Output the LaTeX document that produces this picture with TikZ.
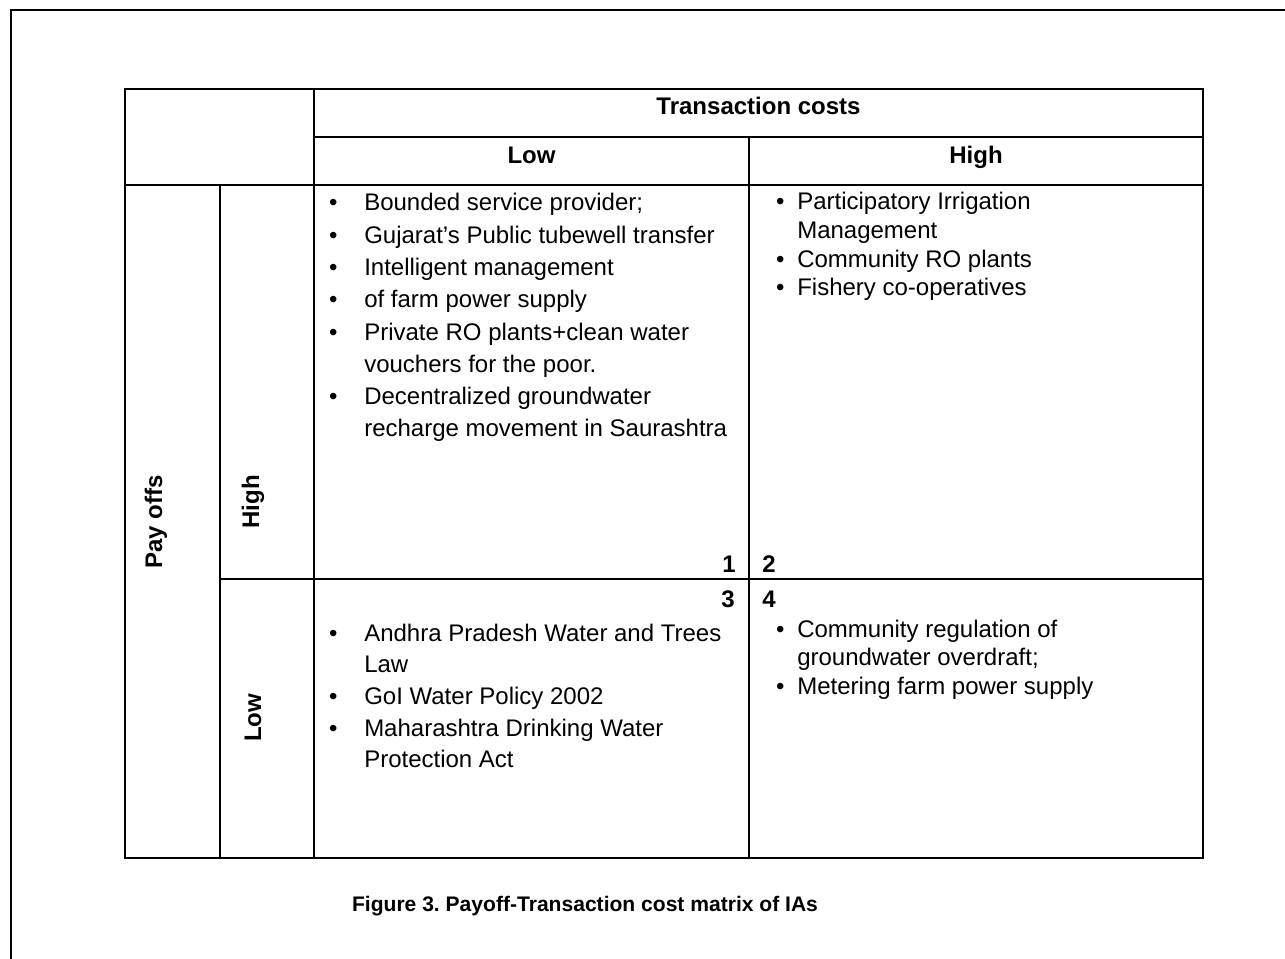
\documentclass[tikz,border=0pt]{standalone}
\usepackage{fontspec}
\setmainfont{Liberation Sans}
\frenchspacing
\newcommand\bu{\makebox[0pt]{\textbullet}}
\begin{document}
\begin{tikzpicture}[x=0.75pt,y=-0.75pt,
  frame/.style={line width=2.2pt},
  grid/.style={line width=1.8pt},
  hd/.style={inner sep=0pt,anchor=base,font=\fontsize{18}{22}\selectfont\bfseries},
  rot/.style={inner sep=0pt,rotate=90,font=\fontsize{18}{22}\selectfont\bfseries},
  num/.style={inner sep=0pt,anchor=base,font=\fontsize{18}{22}\selectfont\bfseries},
  listL/.style={inner sep=0pt,anchor=base west,font=\fontsize{18}{23.8}\selectfont},
  listR/.style={inner sep=0pt,anchor=base west,font=\fontsize{18}{21.5}\selectfont},
  captext/.style={inner sep=0pt,anchor=base,font=\fontsize{15.8}{18}\selectfont\bfseries}]
\useasboundingbox (0,0) rectangle (1285,959);
% outer frame
\draw[frame] (11,965) -- (11,10) -- (1290,10);
% table
\draw[grid] (125,89) rectangle (1203,858);
\draw[grid] (314,137) -- (1203,137);
\draw[grid] (125,185) -- (1203,185);
\draw[grid] (220,579) -- (1203,579);
\draw[grid] (220,185) -- (220,858);
\draw[grid] (314,89) -- (314,858);
\draw[grid] (749,137) -- (749,858);
% headers
\node[hd] (tc) at (758.5,115) {Transaction costs};
\node[hd] (tlow) at (531.5,164) {Low};
\node[hd] (thigh) at (976,164) {High};
\node[rot] (pay) at (156,522) {Pay offs};
\node[rot] (phigh) at (253,502) {High};
\node[rot] (plow) at (253,718) {Low};
% quadrant numbers
\node[num] (n1) at (729,572) {1};
\node[num] (n2) at (769,572) {2};
\node[num] (n3) at (728,607) {3};
\node[num] (n4) at (769,607) {4};
% lists
\node[listL,font=\fontsize{18}{24.2}\selectfont] (q1) at (333,211) {\begin{tabular}[t]{@{}l@{\hspace{23.25pt}}l@{}}
\bu & Bounded service provider;\\
\bu & Gujarat’s Public tubewell transfer\\
\bu & Intelligent management\\
\bu & of farm power supply\\
\bu & Private RO plants+clean water\\
    & vouchers for the poor.\\
\bu & Decentralized groundwater\\
    & recharge movement in Saurashtra
\end{tabular}};
\node[listR] (q2) at (780,210) {\begin{tabular}[t]{@{}l@{\hspace{12.75pt}}l@{}}
\bu & Participatory Irrigation\\
    & Management\\
\bu & Community RO plants\\
\bu & Fishery co-operatives
\end{tabular}};
\node[listL] (q3) at (333,641) {\begin{tabular}[t]{@{}l@{\hspace{23.25pt}}l@{}}
\bu & Andhra Pradesh Water and Trees\\
    & Law\\
\bu & GoI Water Policy 2002\\
\bu & Maharashtra Drinking Water\\
    & Protection Act
\end{tabular}};
\node[listR] (q4) at (780,637) {\begin{tabular}[t]{@{}l@{\hspace{12.75pt}}l@{}}
\bu & Community regulation of\\
    & groundwater overdraft;\\
\bu & Metering farm power supply
\end{tabular}};
% caption
\node[captext] (caption) at (585,911) {Figure 3. Payoff-Transaction cost matrix of IAs};
\end{tikzpicture}
\end{document}
